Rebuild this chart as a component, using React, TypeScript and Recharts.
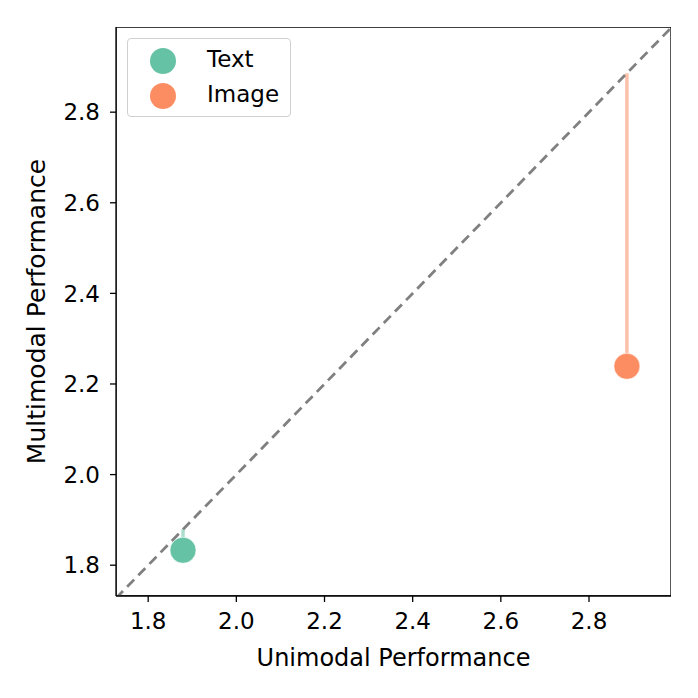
import React from 'react';
import { ScatterChart, Scatter, XAxis, YAxis, ReferenceLine, ReferenceArea, Legend } from 'recharts';

const seriesNames = ['Text', 'Image'];
const seriesColors = ['#66c2a5', '#fc8d62'];
const unimodal = [1.879, 2.886];
const multimodal = [1.833, 2.239];
const ticks = [1.8, 2.0, 2.2, 2.4, 2.6, 2.8];
const xDomain = [1.727, 2.986];
const yDomain = [1.732, 2.988];

const FONT = 'DejaVu Sans';

const dot = (color: string) => (props: any) => (
  <circle cx={props.cx} cy={props.cy} r={13} fill={color} stroke="#ffffff" strokeWidth={0.6} />
);

const LegendBox = () => (
  <div
    style={{
      width: 164,
      height: 79,
      boxSizing: 'border-box',
      border: '1.3px solid #d0d0d0',
      borderRadius: 4,
      background: 'rgba(255,255,255,0.8)',
      fontFamily: FONT,
      fontSize: 23,
      position: 'relative',
    }}
  >
    {seriesNames.map((n, i) => (
      <div key={n} style={{ position: 'absolute', left: 0, top: 6 + i * 35, height: 32, width: '100%' }}>
        <div
          style={{
            position: 'absolute',
            left: 22,
            top: 3,
            width: 26,
            height: 26,
            borderRadius: 13,
            background: seriesColors[i],
          }}
        />
        <div style={{ position: 'absolute', left: 79, top: 1, lineHeight: '26px', color: '#000' }}>{n}</div>
      </div>
    ))}
  </div>
);

export default function App() {
  const tickStyle = { fill: '#000', fontSize: 23, fontFamily: FONT };
  return (
    <div style={{ position: 'absolute', left: 0, top: 0, width: 698, height: 698, background: '#fff' }}>
      <ScatterChart width={698} height={698} margin={{ top: 27, right: 27, bottom: 24, left: 0 }}>
        <XAxis
          type="number"
          dataKey="x"
          domain={xDomain}
          ticks={ticks}
          allowDataOverflow
          tickFormatter={(v: number) => v.toFixed(1)}
          tick={tickStyle}
          tickSize={6}
          tickMargin={11}
          height={78}
          axisLine={{ stroke: '#000', strokeWidth: 1.3 }}
          tickLine={{ stroke: '#000', strokeWidth: 1.3 }}
          label={{ value: 'Unimodal Performance', position: 'insideBottom', offset: 8, style: { fill: '#000', fontSize: 24, fontFamily: FONT } }}
        />
        <YAxis
          type="number"
          dataKey="y"
          domain={yDomain}
          ticks={ticks}
          allowDataOverflow
          tickFormatter={(v: number) => v.toFixed(1)}
          tick={tickStyle}
          tickSize={6}
          tickMargin={10}
          width={116}
          axisLine={{ stroke: '#000', strokeWidth: 1.3 }}
          tickLine={{ stroke: '#000', strokeWidth: 1.3 }}
          label={{ value: 'Multimodal Performance', angle: -90, position: 'insideLeft', offset: 36, style: { fill: '#000', fontSize: 25, fontFamily: FONT, textAnchor: 'middle' } }}
        />
        <ReferenceArea x1={xDomain[0]} x2={xDomain[1]} y1={yDomain[0]} y2={yDomain[1]} fill="none" fillOpacity={0} stroke="#000" strokeWidth={1.3} ifOverflow="hidden" />
        <ReferenceLine
          segment={[{ x: xDomain[0], y: xDomain[0] }, { x: 3.0, y: 3.0 }]}
          stroke="#808080"
          strokeWidth={2.8}
          strokeDasharray="10 6"
          ifOverflow="hidden"
        />
        {seriesNames.map((n, i) => (
          <ReferenceLine
            key={'stem' + n}
            segment={[{ x: unimodal[i], y: multimodal[i] }, { x: unimodal[i], y: unimodal[i] }]}
            stroke={seriesColors[i]}
            strokeOpacity={0.55}
            strokeWidth={3.5}
          />
        ))}
        {seriesNames.map((n, i) => (
          <Scatter
            key={n}
            name={n}
            data={[{ x: unimodal[i], y: multimodal[i] }]}
            fill={seriesColors[i]}
            shape={dot(seriesColors[i])}
            isAnimationActive={false}
          />
        ))}
        <Legend
          layout="horizontal"
          verticalAlign="middle"
          align="center"
          content={() => <LegendBox />}
          wrapperStyle={{ position: 'absolute', left: 127, top: 38, width: 164, height: 79 }}
        />
      </ScatterChart>
    </div>
  );
}
